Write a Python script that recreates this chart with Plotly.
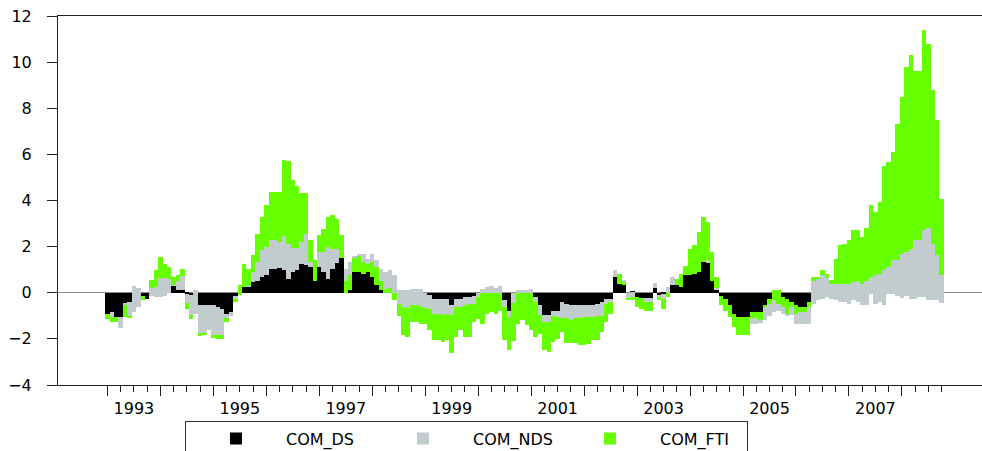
import numpy as np
import plotly.graph_objects as go

START_YEAR = 1993  # monthly observations, Jan 1993 .. Oct 2008

COM_DS = [
    -0.9, -0.85, -1.05, -1.05, -0.45, -0.4, -0.84, -0.62, -0.12, -0.26, -0.15, -0.2,
    -0.2, -0.15, 0.0, 0.32, 0.1, 0.1, -0.05, -0.1, -0.9, -0.55, -0.55, -0.55,
    -0.55, -0.6, -0.7, -0.9, -0.85, -0.15, 0.0, 0.25, 0.25, 0.46, 0.53, 0.68,
    0.75, 1.04, 1.04, 1.08, 1.0, 0.6, 0.9, 1.0, 1.26, 1.2, 1.1, 0.53,
    1.1, 0.9, 0.6, 1.04, 1.3, 1.52, 1.04, 1.33, 1.6, 1.7, 1.7, 1.47,
    1.7, 1.43, 1.04, 0.9, 1.0, 0.75, 0.1, 0.1, 0.1, 0.17, 0.17, 0.17,
    0.0, -0.1, -0.26, -0.26, -0.26, -0.26, -0.55, -0.26, -0.26, -0.2, -0.2, -0.15,
    0.0, 0.17, 0.25, 0.3, 0.2, 0.3, -0.33, -0.77, 0.0, 0.1, 0.13, 0.13,
    0.17, -0.19, -0.55, -0.98, -0.98, -0.77, -0.77, -0.4, -0.48, -0.55, -0.55, -0.55,
    -0.55, -0.55, -0.55, -0.5, -0.4, -0.26, -0.26, 0.68, 0.39, 0.57, 0.0, 0.05,
    -0.19, -0.22, -0.22, -0.22, 0.2, -0.1, -0.05, 0.25, 0.32, 0.32, 0.25, 0.75,
    0.75, 0.82, 0.9, 1.33, 1.33, 0.53, 0.1, -0.12, -0.26, -0.55, -0.91, -1.05,
    -1.05, -1.05, -1.34, -1.34, -1.3, -1.2, -1.0, -0.84, -0.77, -0.91, -1.0, -0.98,
    -1.35, -1.37, -1.37, -1.35, -0.48, -0.33, -0.26, -0.19, -0.26, -0.33, -0.4, -0.4,
    -0.48, -0.33, -0.4, -0.55, -0.55, -0.05, -0.48, -0.4, -0.55, -0.05, -0.05, -0.12,
    -0.22, -0.16, -0.26, -0.26, -0.2, -0.19, -0.3, -0.3, -0.3, -0.45,
]

COM_NDS = [
    0.0, -0.2, 0.0, -0.47, -0.1, -0.6, 1.14, 0.84, 0.0, 0.0, 0.35, 0.45,
    0.85, 0.8, 0.6, 0.03, 0.4, 0.62, -0.4, -0.85, 1.03, -1.2, -1.2, -1.05,
    -1.3, -1.25, -1.15, -0.2, -0.15, -0.1, -0.1, 0.0, 0.05, 0.44, 0.8, 1.16,
    1.23, 1.23, 1.23, 1.12, 1.44, 1.5, 1.05, 0.95, 0.94, 1.35, 0.23, 0.0,
    0.66, 0.86, 1.38, 0.86, 0.6, 0.0, -1.04, -1.23, -0.7, -0.8, -0.88, -0.57,
    -1.02, -1.11, -0.94, -0.9, -1.0, -0.75, -0.6, -0.7, -0.75, -0.72, -0.72, -0.77,
    -0.65, -0.6, -0.64, -0.64, -0.69, -0.64, -0.4, -0.36, -0.36, -0.35, -0.3, -0.35,
    -0.2, -0.17, -0.25, -0.3, -0.2, -0.3, -0.29, -0.28, -0.45, -0.1, -0.13, -0.13,
    -0.17, -0.21, -0.43, -0.29, -0.29, -0.23, -0.28, -0.7, -0.62, -0.62, -0.55, -0.55,
    -0.5, -0.5, -0.5, -0.5, -0.6, -0.24, -0.14, 0.32, 0.0, -0.25, -0.26, -0.25,
    0.0, 0.0, -0.18, -0.18, 0.23, -0.1, -0.21, -0.25, 0.36, 0.0, 0.0, 0.0,
    0.0, 0.0, 0.0, 0.0, 0.07, 0.0, 0.1, 0.0, 0.0, 0.0, 0.0, 0.0,
    0.0, 0.0, 0.5, 0.5, 0.46, 0.65, 0.74, 0.51, 0.29, 0.72, 0.74, 0.58,
    0.8, 0.77, 0.75, 0.95, 0.98, 0.93, 1.01, 0.84, 0.65, 0.72, 0.79, 0.79,
    0.87, 0.79, 0.9, 0.95, 1.08, 0.73, 1.23, 1.22, 1.52, 1.15, 1.45, 1.52,
    1.91, 1.92, 2.17, 2.53, 2.47, 2.89, 3.12, 2.4, 1.92, 1.2,
]

COM_FTI = [
    -0.22, -0.22, -0.22, 0.0, -0.5, -0.1, 0.0, 0.0, -0.21, 0.0, 0.35, 0.72,
    0.9, 0.61, 0.5, 0.35, 0.25, 0.33, -0.25, -0.2, 0.0, -0.12, -0.1, 0.0,
    -0.1, -0.15, -0.15, -0.15, 0.0, -0.15, 0.45, 1.0, 0.75, 0.72, 1.23, 1.44,
    1.81, 2.09, 2.09, 2.16, 3.33, 3.6, 2.95, 2.7, 2.12, 1.77, 0.94, 0.87,
    0.74, 0.99, 1.3, 1.45, 1.3, 0.97, 0.53, 0.65, 0.6, 0.7, 0.51, 0.36,
    0.65, 0.78, 0.43, 0.17, 0.2, -0.3, -0.5, -1.25, -1.27, -0.72, -0.72, -0.74,
    -0.69, -0.93, -1.17, -1.17, -1.19, -1.17, -1.65, -1.3, -1.01, -1.37, -1.42, -0.77,
    -0.93, -1.35, -0.91, -0.84, -0.91, -0.8, -1.45, -1.45, -1.65, -1.34, -1.2, -1.4,
    -1.6, -1.52, -0.79, -1.23, -1.3, -1.14, -0.95, -0.6, -1.1, -1.03, -1.1, -1.18,
    -1.23, -1.16, -1.02, -1.07, -0.7, -0.77, -0.51, 0.0, 0.43, 0.14, -0.07, -0.13,
    -0.43, -0.48, -0.37, -0.37, 0.0, -0.1, -0.44, -0.2, 0.0, 0.28, 0.57, 0.43,
    1.15, 1.23, 1.73, 1.95, 1.66, 1.23, 0.48, -0.43, -0.51, -0.5, -0.58, -0.8,
    -0.8, -0.8, -0.26, -0.26, -0.36, -0.05, -0.22, 0.43, 0.61, -0.43, -0.65, -0.22,
    -0.35, -0.24, -0.22, -0.22, 0.2, 0.1, 0.22, 0.15, 0.17, 1.08, 1.66, 1.73,
    1.91, 2.24, 2.2, 2.0, 2.29, 3.11, 2.75, 3.11, 4.53, 4.56, 4.7, 5.93,
    6.79, 8.04, 8.39, 7.33, 7.33, 8.7, 7.98, 6.7, 5.88, 3.33,
]

SERIES_NAMES = ["COM_DS", "COM_NDS", "COM_FTI"]
SERIES_COLORS = ["#000000", "#C2CCCE", "#66FF00"]
Y_TICKS = [-4, -2, 0, 2, 4, 6, 8, 10, 12]
YEAR_LABELS = ["1993", "1995", "1997", "1999", "2001", "2003", "2005", "2007"]

FONT = "DejaVu Sans"

n = len(COM_DS)
x = START_YEAR + np.arange(n) / 12.0
values = [np.array(COM_DS), np.array(COM_NDS), np.array(COM_FTI)]
# cumulative stacking: each series starts where the previous one ended
bases = [np.zeros(n), values[0], values[0] + values[1]]

fig = go.Figure()
for name, color, v, b in zip(SERIES_NAMES, SERIES_COLORS, values, bases):
    fig.add_trace(go.Bar(x=x, y=v, base=b, name=name,
                         marker=dict(color=color, line=dict(width=0))))

# empty helper trace so the label axis (year names centred in each year) is drawn
fig.add_trace(go.Scatter(x=[], y=[], xaxis="x2", showlegend=False,
                         hoverinfo="skip", mode="markers"))

last_obs = x[-1]
year_ticks = list(range(START_YEAR, int(last_obs) + 1))
quarter_ticks = [float(t) for t in np.arange(START_YEAR, last_obs + 1e-6, 0.25)
                 if abs(t - round(t)) > 1e-6]
label_pos = [int(y) + 0.5 for y in YEAR_LABELS]

x_range = [1992.067, 2009.512]

# figure is a little taller than the window: the legend box runs off the bottom edge
fig.update_layout(
    width=982, height=460,
    margin=dict(l=58, r=0, t=16, b=75),
    paper_bgcolor="white", plot_bgcolor="white",
    barmode="overlay", bargap=0,
    font=dict(family=FONT, size=16, color="#000000"),
    showlegend=True,
    legend=dict(
        orientation="h", x=0.1374, xanchor="left", y=-0.0967, yanchor="top",
        bordercolor="#333333", borderwidth=1, bgcolor="white",
        itemwidth=90, entrywidth=82, entrywidthmode="pixels",
        font=dict(family=FONT, size=16, color="#000000"),
        traceorder="normal",
    ),
    xaxis=dict(
        range=x_range, showgrid=False, zeroline=False,
        showline=True, linecolor="#222222", linewidth=1, mirror=True,
        tickmode="array", tickvals=year_ticks, ticks="outside",
        ticklen=10, tickwidth=1, tickcolor="#222222",
        showticklabels=False,
        minor=dict(tickmode="array", tickvals=quarter_ticks, ticks="outside",
                   ticklen=6, tickwidth=1, tickcolor="#222222", showgrid=False),
    ),
    xaxis2=dict(
        range=x_range, overlaying="x", anchor="y", side="bottom",
        showgrid=False, zeroline=False, showline=False,
        tickmode="array", tickvals=label_pos, ticktext=YEAR_LABELS,
        ticks="outside", ticklen=9, tickcolor="rgba(0,0,0,0)",
        tickfont=dict(family=FONT, size=16, color="#000000"),
    ),
    yaxis=dict(
        range=[-4, 12], showgrid=False,
        zeroline=True, zerolinecolor="#8C8C8C", zerolinewidth=1,
        showline=True, linecolor="#222222", linewidth=1,
        tickmode="array", tickvals=Y_TICKS, ticks="outside",
        ticklen=10, tickwidth=1, tickcolor="#222222",
        ticklabelstandoff=12,
        tickfont=dict(family=FONT, size=16, color="#000000"),
    ),
)

fig.write_html(
    "out.html",
    config={"displayModeBar": False, "responsive": False},
    post_script="document.body.style.margin='0';document.body.style.overflow='hidden';",
)
